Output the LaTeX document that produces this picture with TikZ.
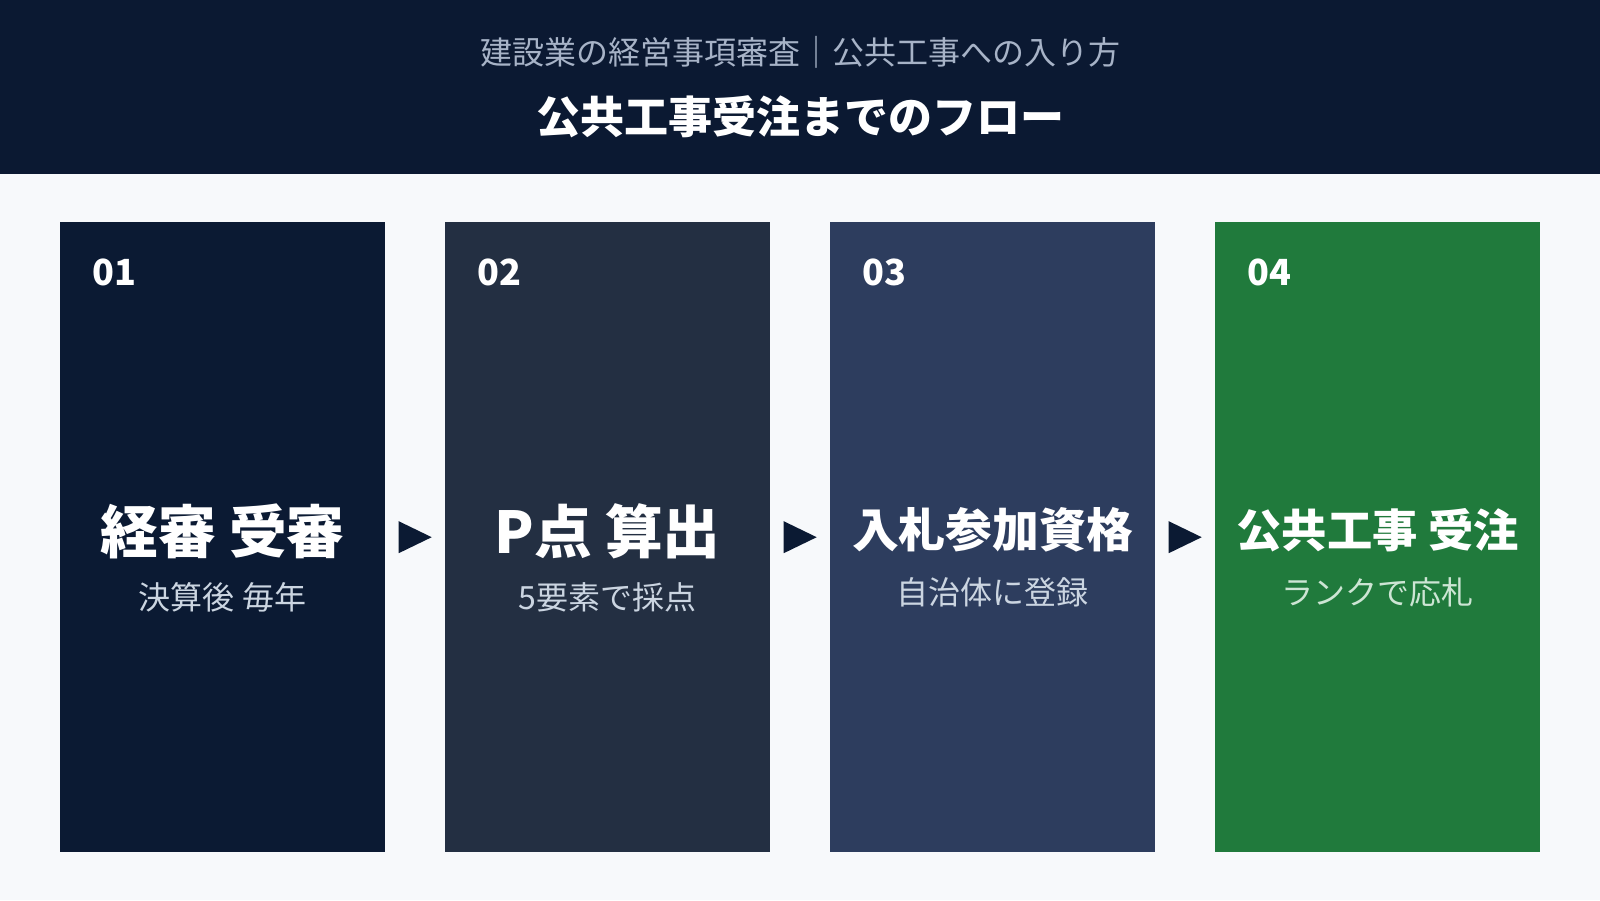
\documentclass[tikz,border=0pt]{standalone}
\usepackage{fontspec}
\usetikzlibrary{calc}
\setmainfont{Noto Sans CJK JP}
\definecolor{pagebg}{HTML}{F7F9FB}
\definecolor{headbg}{HTML}{0B1932}
\definecolor{subhead}{HTML}{A7B3C7}
\definecolor{boxA}{HTML}{0B1A33}
\definecolor{boxB}{HTML}{232F42}
\definecolor{boxC}{HTML}{2D3D5E}
\definecolor{boxD}{HTML}{207A3C}
\definecolor{subtxt}{HTML}{CBD5E1}
\definecolor{subtxtg}{HTML}{CDE5D4}
\definecolor{arrowc}{HTML}{0B1A33}
\tikzset{
  stepbox/.style={draw=none, minimum width=325pt, minimum height=630pt, inner sep=0pt, anchor=north west},
  numtxt/.style={text=white, font=\bfseries\fontsize{36}{40}\selectfont, anchor=west, inner sep=0pt},
  maintxt/.style={text=white, inner sep=0pt, anchor=center},
  subtx/.style={inner sep=0pt, anchor=center, font=\fontsize{32}{36}\selectfont},
  tri/.style={fill=arrowc, draw=none}
}
\begin{document}
\begin{tikzpicture}[x=1pt,y=-1pt]
\useasboundingbox (0,0) rectangle (1600,900);
\fill[pagebg] (0,0) rectangle (1600,900);
\fill[headbg] (0,0) rectangle (1600,174);
\node[text=subhead, font=\fontsize{32}{36}\selectfont, inner sep=0pt] (sub) at (800,52) {建設業の経営事項審査｜公共工事への入り方};
\node[text=white, font=\bfseries\fontsize{44}{48}\selectfont, inner sep=0pt] (title) at (800,117) {公共工事受注までのフロー};

\node[stepbox, fill=boxA] (b1) at (60,222) {};
\node[stepbox, fill=boxB] (b2) at (445,222) {};
\node[stepbox, fill=boxC] (b3) at (830,222) {};
\node[stepbox, fill=boxD] (b4) at (1215,222) {};

\node[numtxt] (n1) at (92,272) {01};
\node[numtxt] (n2) at (477,272) {02};
\node[numtxt] (n3) at (862,272) {03};
\node[numtxt] (n4) at (1247,272) {04};

\node[maintxt, font=\bfseries\fontsize{57.7}{62}\selectfont] (m1) at (222.5,531) {経審 受審};
\node[maintxt, font=\bfseries\fontsize{57.7}{62}\selectfont] (m2) at (607.5,531) {P点 算出};
\node[maintxt, font=\bfseries\fontsize{46.8}{52}\selectfont] (m3) at (992.5,530) {入札参加資格};
\node[maintxt, font=\bfseries\fontsize{45.3}{52}\selectfont] (m4) at (1377.5,530) {公共工事 受注};

\node[subtx, text=subtxt] (s1) at (222.5,597) {決算後 毎年};
\node[subtx, text=subtxt] (s2) at (607.5,597) {5要素で採点};
\node[subtx, text=subtxt] (s3) at (992.5,592) {自治体に登録};
\node[subtx, text=subtxtg] (s4) at (1377.5,592) {ランクで応札};

\foreach \i/\j [count=\k] in {b1/b2,b2/b3,b3/b4}{
  \coordinate (t\k) at ($(\i.east)!0.5!(\j.west)$);
  \fill[tri] ($(t\k)+(-16.5,-16)$) -- ($(t\k)+(16.5,0)$) -- ($(t\k)+(-16.5,16)$) -- cycle;
}
\end{tikzpicture}
\end{document}
